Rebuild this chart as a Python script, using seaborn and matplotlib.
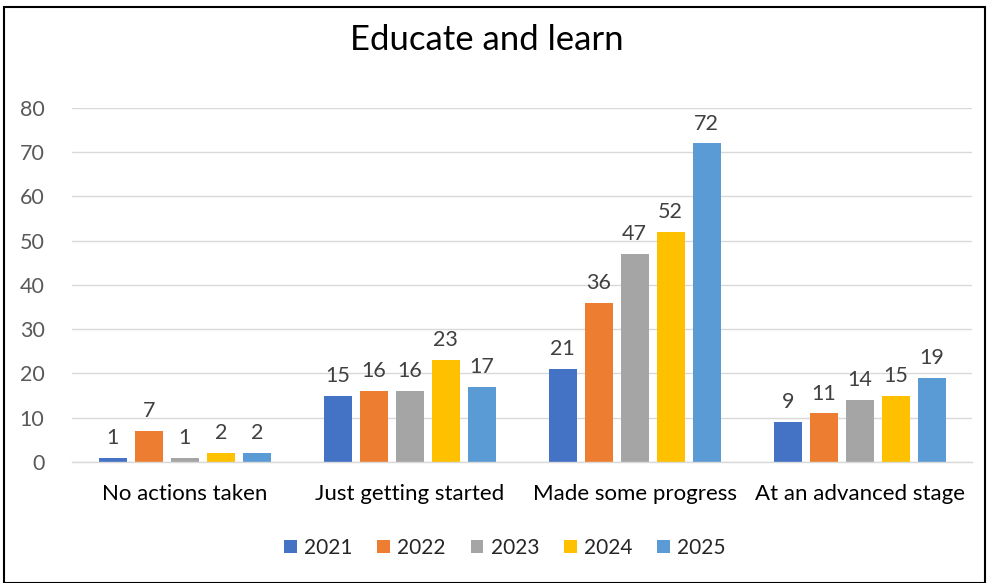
import matplotlib as mpl
mpl.use('Agg')
import matplotlib.pyplot as plt
import seaborn as sns
import pandas as pd
from matplotlib.patches import Rectangle

categories = ["No actions taken", "Just getting started", "Made some progress", "At an advanced stage"]
years = ["2021", "2022", "2023", "2024", "2025"]
values = {
    "2021": [1, 15, 21, 9],
    "2022": [7, 16, 36, 11],
    "2023": [1, 16, 47, 14],
    "2024": [2, 23, 52, 15],
    "2025": [2, 17, 72, 19],
}
colors = ["#4472C4", "#ED7D31", "#A5A5A5", "#FFC000", "#5B9BD5"]

rows = []
for y in years:
    for c, v in zip(categories, values[y]):
        rows.append({"category": c, "year": y, "value": v})
df = pd.DataFrame(rows)

sns.set_style("white")
plt.rcParams['font.family'] = ['Lato', 'DejaVu Sans']

fig = plt.figure(figsize=(9.9, 5.83), dpi=100)
ax = fig.add_axes([0.073, 0.2075, 0.909, 0.6075])

sns.barplot(data=df, x="category", y="value", hue="year", order=categories,
            hue_order=years, palette=colors, width=0.8, gap=0.22,
            saturation=1, ax=ax, legend=True, linewidth=0)

for cont in ax.containers:
    ax.bar_label(cont, padding=7, fontsize=15.5, color="#404040")

ax.set_ylim(0, 80)
ax.set_yticks(range(0, 81, 10))
ax.set_xlim(-0.5, 3.5)
ax.yaxis.grid(True, color="#D9D9D9", linewidth=1)
ax.set_axisbelow(True)
for s in ["left", "right", "top"]:
    ax.spines[s].set_visible(False)
ax.spines["bottom"].set_color("#D9D9D9")
ax.spines["bottom"].set_linewidth(1)
ax.tick_params(axis="y", length=0, labelsize=15.5, colors="#595959", pad=20)
ax.tick_params(axis="x", length=0, labelsize=16, colors="#000000", pad=16)
ax.set_xlabel("")
ax.set_ylabel("")

handles, labels = ax.get_legend_handles_labels()
ax.legend_.remove()
fig.legend(handles, labels, loc="center", bbox_to_anchor=(0.51, 0.06), ncol=5,
           frameon=False, fontsize=15, handlelength=0.6, handleheight=0.6,
           handletextpad=0.35, columnspacing=1.2)

fig.text(0.492, 0.932, "Educate and learn", ha="center", va="center", fontsize=25, color="#000000")

fig.patches.append(Rectangle((0.004, 0.0), 0.991, 0.988, transform=fig.transFigure,
                             fill=False, edgecolor="black", linewidth=1.5))

fig.savefig("out.png", dpi=100)
